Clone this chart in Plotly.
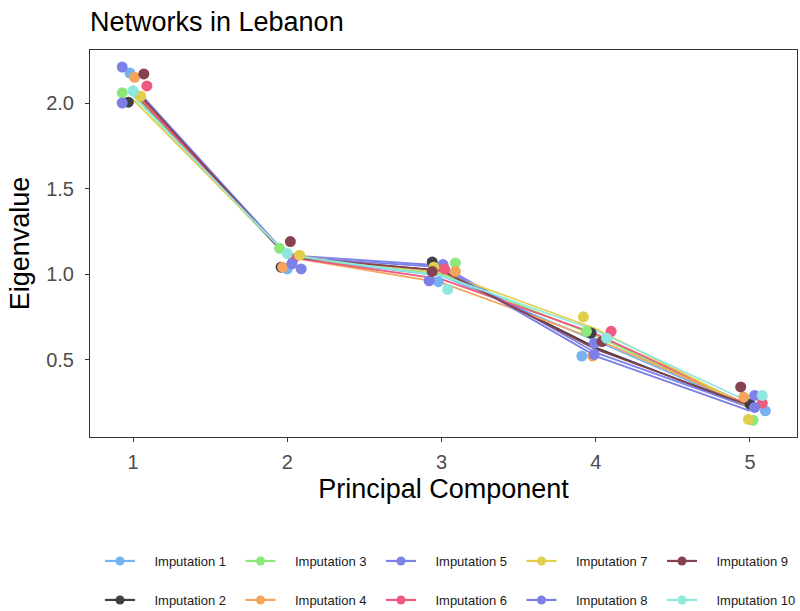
import plotly.graph_objects as go

components = [1, 2, 3, 4, 5]
imputations = [f"Imputation {i}" for i in range(1, 11)]
colors = ["#74B3EF", "#3F3F46", "#8DE77A", "#F6A35B", "#7D82E8",
          "#EE5A80", "#E2CE4C", "#7B7FE6", "#874250", "#8FE8DF"]

# Eigenvalue per principal component, one list per imputation (lines)
eig_imp1 = [2.05, 1.10, 0.99, 0.61, 0.22]
eig_imp2 = [2.06, 1.10, 1.02, 0.57, 0.22]
eig_imp3 = [2.05, 1.10, 1.00, 0.64, 0.22]
eig_imp4 = [2.08, 1.10, 0.95, 0.62, 0.23]
eig_imp5 = [2.10, 1.11, 1.05, 0.54, 0.22]
eig_imp6 = [2.07, 1.10, 0.97, 0.65, 0.23]
eig_imp7 = [2.02, 1.11, 1.01, 0.68, 0.22]
eig_imp8 = [2.10, 1.10, 1.04, 0.52, 0.20]
eig_imp9 = [2.09, 1.10, 1.02, 0.56, 0.23]
eig_imp10 = [2.04, 1.11, 0.99, 0.67, 0.25]
line_values = [eig_imp1, eig_imp2, eig_imp3, eig_imp4, eig_imp5,
               eig_imp6, eig_imp7, eig_imp8, eig_imp9, eig_imp10]

# Jittered points: component position and eigenvalue, per imputation
pts_x = [
    [0.98, 2.00, 2.98, 3.91, 5.10],
    [0.97, 1.96, 2.94, 3.97, 5.00],
    [0.93, 1.95, 3.09, 3.94, 5.02],
    [1.01, 1.97, 3.09, 3.98, 4.96],
    [0.93, 2.09, 3.01, 3.99, 5.03],
    [1.09, 2.04, 3.02, 4.10, 5.08],
    [1.05, 2.08, 2.95, 3.92, 4.99],
    [0.93, 2.03, 2.92, 3.99, 5.03],
    [1.07, 2.02, 2.94, 4.04, 4.94],
    [1.00, 2.00, 3.04, 4.07, 5.08],
]
pts_y = [
    [2.175, 1.03, 0.955, 0.52, 0.20],
    [2.005, 1.04, 1.07, 0.655, 0.24],
    [2.06, 1.15, 1.065, 0.665, 0.145],
    [2.15, 1.04, 1.015, 0.52, 0.28],
    [2.21, 1.03, 1.055, 0.595, 0.29],
    [2.10, 1.09, 1.03, 0.665, 0.245],
    [2.04, 1.11, 1.04, 0.75, 0.15],
    [2.00, 1.06, 0.96, 0.53, 0.22],
    [2.17, 1.19, 1.015, 0.605, 0.34],
    [2.07, 1.12, 0.91, 0.625, 0.29],
]

y_ticks = [0.5, 1.0, 1.5, 2.0]
y_ticktext = ["0.5", "1.0", "1.5", "2.0"]

fig = go.Figure()

for name, col, vals in zip(imputations, colors, line_values):
    fig.add_trace(go.Scatter(x=components, y=vals, mode="lines",
                             line=dict(color=col, width=1.8),
                             showlegend=False, hoverinfo="skip"))

for name, col, xs, ys in zip(imputations, colors, pts_x, pts_y):
    fig.add_trace(go.Scatter(x=xs, y=ys, mode="markers",
                             marker=dict(color=col, size=11),
                             showlegend=False, name=name))

# Legend entries: odd imputations on the first row, even on the second.
# Non-breaking spaces widen the gap between the key and its label.
pad = "\u00a0" * 4
for i, (name, col) in enumerate(zip(imputations, colors)):
    fig.add_trace(go.Scatter(x=[None], y=[None], mode="lines+markers",
                             name=pad + name,
                             line=dict(color=col, width=2.2),
                             marker=dict(color=col, size=9),
                             legend="legend" if i % 2 == 0 else "legend2"))

axis_common = dict(showline=True, mirror=True, linecolor="#333333", linewidth=1,
                   ticks="outside", ticklen=4, tickcolor="#333333",
                   tickfont=dict(size=20, color="#4D4D4D"),
                   showgrid=False, zeroline=False)

legend_common = dict(orientation="h", xref="container", yref="container",
                     xanchor="left", yanchor="middle", x=100 / 800,
                     font=dict(size=13, color="#1A1A1A"),
                     itemwidth=30, entrywidth=95.5, bgcolor="rgba(0,0,0,0)",
                     traceorder="normal")

fig.update_layout(
    width=800, height=611,
    margin=dict(l=90, r=3, t=50, b=174),
    paper_bgcolor="white", plot_bgcolor="white",
    font=dict(family="Liberation Sans, Arial, sans-serif"),
    title=dict(text="Networks in Lebanon", x=90 / 800, xanchor="left",
               xref="container", yref="container", y=1 - 22 / 611,
               yanchor="middle", font=dict(size=27, color="black")),
    xaxis=dict(range=[0.721, 5.305], tickvals=components,
               ticklabelstandoff=3,
               title=dict(text="Principal Component", standoff=7,
                          font=dict(size=27, color="black")),
               **axis_common),
    yaxis=dict(range=[0.047, 2.31], tickvals=y_ticks, ticktext=y_ticktext,
               ticklabelstandoff=7,
               title=dict(text="Eigenvalue", standoff=8,
                          font=dict(size=27, color="black")),
               **axis_common),
    legend=dict(y=1 - 561 / 611, **legend_common),
    legend2=dict(y=1 - 600 / 611, **legend_common),
)

fig.write_html("out.html")
